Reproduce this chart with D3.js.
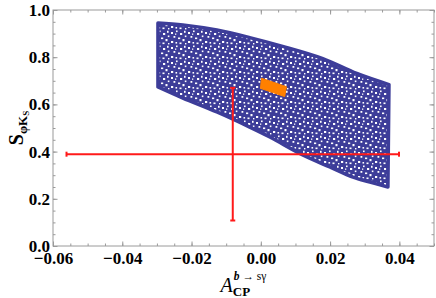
<!DOCTYPE html>
<html>
<head>
<meta charset="utf-8">
<script src="https://cdn.jsdelivr.net/npm/d3@7"></script>
<style>
  body { margin: 0; background: #fff; }
  text { font-family: "Liberation Serif", "DejaVu Serif", serif; }
</style>
</head>
<body>
<div id="chart"></div>
<script>
// scan region (blue points): upper and lower boundary
const scanTop    = [[-0.0297, 0.945], [-0.0225, 0.937], [-0.0127, 0.915], [-0.0032, 0.883],
                    [0.0063, 0.846], [0.0179, 0.794], [0.0277, 0.731], [0.0370, 0.684]];
const scanBottom = [[-0.0297, 0.674], [-0.0225, 0.627], [-0.0127, 0.568], [-0.0032, 0.504],
                    [0.0026, 0.462], [0.0121, 0.386], [0.0199, 0.335], [0.0266, 0.292],
                    [0.0315, 0.271], [0.0367, 0.250]];
// orange cluster
const bestFit = [[0.0002, 0.711], [0.0074, 0.675], [0.0069, 0.633], [-0.0001, 0.668]];
// experimental point with errors
const expX = -0.0081, expY = 0.389, expXErr = 0.048, expYErr = 0.281;

const xTicks = [-0.06, -0.04, -0.02, 0.00, 0.02, 0.04];
const yTicks = [0.0, 0.2, 0.4, 0.6, 0.8, 1.0];

const W = 436, H = 298;
const margin = {top: 10, right: 2, bottom: 52, left: 53};

const svg = d3.select("#chart").append("svg")
    .attr("width", W).attr("height", H);

const x = d3.scaleLinear().domain([-0.06, 0.05]).range([margin.left, W - margin.right]);
const y = d3.scaleLinear().domain([0, 1]).range([H - margin.bottom, margin.top]);

const blue = "#3d3d99";

// speckle texture standing in for the gaps of the dense scatter
const defs = svg.append("defs");
const pat = defs.append("pattern")
    .attr("id", "speckle").attr("patternUnits", "userSpaceOnUse")
    .attr("width", 17).attr("height", 15);
pat.append("rect").attr("width", 17).attr("height", 15).attr("fill", blue);
[[1, 2, 2, 2], [6, 0.5, 1.6, 1.6], [10, 3, 2.2, 2], [14, 0.8, 1.6, 2], [3.5, 6, 1.8, 1.8],
 [8, 7.5, 2.2, 1.6], [12.5, 9, 2, 2.2], [1, 11, 2.2, 2], [5.5, 12, 1.6, 1.6],
 [9.5, 12.5, 2, 1.6], [14.8, 5.5, 1.6, 1.6], [5, 3.5, 1.3, 1.3], [15, 13, 1.4, 1.4]]
  .forEach(p => {
    pat.append("rect").attr("x", p[0]).attr("y", p[1])
       .attr("width", p[2]).attr("height", p[3]).attr("fill", "#fff");
  });

const lineC = d3.line().x(d => x(d[0])).y(d => y(d[1])).curve(d3.curveCatmullRom);
const line = d3.line().x(d => x(d[0])).y(d => y(d[1]));
const regionPath = lineC(scanTop) + "L" +
    lineC(scanBottom.slice().reverse()).slice(1) + "Z";

svg.append("path")
   .attr("d", regionPath)
   .attr("fill", "url(#speckle)")
   .attr("stroke", blue)
   .attr("stroke-width", 3.5)
   .attr("stroke-linejoin", "round");

svg.append("path")
   .attr("d", line(bestFit) + "Z")
   .attr("fill", "#ff8000")
   .attr("stroke", "#ff8000")
   .attr("stroke-width", 1);

// error bars
const red = "#ff1a1a";
const eb = svg.append("g").attr("stroke", red).attr("stroke-width", 2);
eb.append("line").attr("x1", x(expX - expXErr)).attr("x2", x(expX + expXErr))
  .attr("y1", y(expY)).attr("y2", y(expY));
eb.append("line").attr("x1", x(expX)).attr("x2", x(expX))
  .attr("y1", y(expY - expYErr)).attr("y2", y(expY + expYErr));
[expX - expXErr, expX + expXErr].forEach(v => {
  eb.append("line").attr("x1", x(v)).attr("x2", x(v))
    .attr("y1", y(expY) - 2.5).attr("y2", y(expY) + 2.5);
});
[expY - expYErr, expY + expYErr].forEach(v => {
  eb.append("line").attr("x1", x(expX) - 2.5).attr("x2", x(expX) + 2.5)
    .attr("y1", y(v)).attr("y2", y(v));
});

// frame
const gray = "#9a9a9a";
svg.append("rect")
   .attr("x", x(-0.06)).attr("y", y(1))
   .attr("width", x(0.05) - x(-0.06)).attr("height", y(0) - y(1))
   .attr("fill", "none").attr("stroke", gray).attr("stroke-width", 1);

const xMinor = d3.range(-0.06, 0.0501, 0.005);
const yMinor = d3.range(0, 1.001, 0.05);
const fmtX = v => d3.format(".2f")(v).replace("-", "\u2212");
const fmtY = v => d3.format(".1f")(v);

function styleAxis(g) {
  g.select(".domain").remove();
  g.selectAll(".tick line").attr("stroke", gray);
  g.selectAll("text").attr("font-size", 17).attr("font-weight", "bold").attr("fill", "#000");
}

// bottom / top axes
svg.append("g").attr("transform", `translate(0,${y(0)})`)
   .call(d3.axisBottom(x).tickValues(xMinor).tickSize(-2.5).tickFormat(""))
   .call(styleAxis);
svg.append("g").attr("transform", `translate(0,${y(0)})`)
   .call(d3.axisBottom(x).tickValues(xTicks).tickSize(-4.5).tickPadding(6).tickFormat(fmtX))
   .call(styleAxis);
svg.append("g").attr("transform", `translate(0,${y(1)})`)
   .call(d3.axisTop(x).tickValues(xMinor).tickSize(-2.5).tickFormat(""))
   .call(styleAxis);
svg.append("g").attr("transform", `translate(0,${y(1)})`)
   .call(d3.axisTop(x).tickValues(xTicks).tickSize(-4.5).tickFormat(""))
   .call(styleAxis);

// left / right axes
svg.append("g").attr("transform", `translate(${x(-0.06)},0)`)
   .call(d3.axisLeft(y).tickValues(yMinor).tickSize(-2.5).tickFormat(""))
   .call(styleAxis);
svg.append("g").attr("transform", `translate(${x(-0.06)},0)`)
   .call(d3.axisLeft(y).tickValues(yTicks).tickSize(-4.5).tickPadding(3).tickFormat(fmtY))
   .call(styleAxis);
svg.append("g").attr("transform", `translate(${x(0.05)},0)`)
   .call(d3.axisRight(y).tickValues(yMinor).tickSize(-2.5).tickFormat(""))
   .call(styleAxis);
svg.append("g").attr("transform", `translate(${x(0.05)},0)`)
   .call(d3.axisRight(y).tickValues(yTicks).tickSize(-4.5).tickFormat(""))
   .call(styleAxis);

// x axis title: A_CP^{b -> s gamma}
const cx = (x(-0.06) + x(0.05)) / 2;
const xt = svg.append("g");
const aT = xt.append("text").attr("y", 292).attr("font-size", 20)
   .attr("font-style", "italic").text("A");
const supT = xt.append("text").attr("y", 280).attr("font-size", 11.5);
supT.append("tspan").attr("font-style", "italic").attr("font-weight", "bold").text("b");
supT.append("tspan").text(" \u2192 s\u03b3");
const subT = xt.append("text").attr("y", 296).attr("font-size", 13)
   .attr("font-weight", "bold").text("CP");
const aw = aT.node().getComputedTextLength();
const sw = Math.max(supT.node().getComputedTextLength(), subT.node().getComputedTextLength());
const x0 = cx - (aw + 1 + sw) / 2;
aT.attr("x", x0);
supT.attr("x", x0 + aw + 1);
subT.attr("x", x0 + aw);

// y axis title: S_{phi K_S}
const yt = svg.append("text")
   .attr("transform", `translate(23,${(y(0) + y(1)) / 2}) rotate(-90)`)
   .attr("text-anchor", "middle");
yt.append("tspan").attr("font-size", 20).attr("font-weight", "bold").text("S");
yt.append("tspan").attr("font-size", 13).attr("font-weight", "bold").attr("dy", 4).text("\u03c6K");
yt.append("tspan").attr("font-size", 9).attr("font-weight", "bold").attr("dy", 2).text("S");
</script>
</body>
</html>
